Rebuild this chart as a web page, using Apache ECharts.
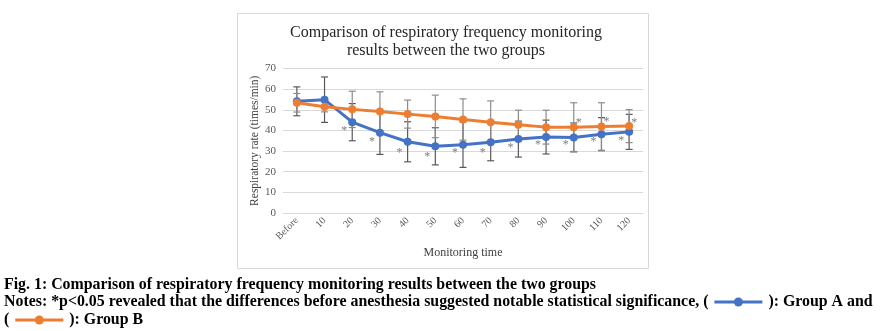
<!DOCTYPE html>
<html><head><meta charset="utf-8">
<script src="https://cdn.jsdelivr.net/npm/echarts@6/dist/echarts.min.js"></script>
<style>html,body{margin:0;padding:0;background:#fff}#c{width:888px;height:331px}</style>
</head><body><div id="c"></div>
<script>
// ---- data ----
const categories = ['Before','10','20','30','40','50','60','70','80','90','100','110','120'];
const groupA = [54.1, 54.9, 44.0, 38.9, 34.5, 32.3, 33.1, 34.3, 35.8, 36.8, 36.6, 38.2, 39.3];
const groupB = [53.4, 51.5, 50.2, 49.2, 47.9, 46.8, 45.3, 44.0, 42.8, 41.6, 41.6, 41.9, 42.1];
const sdA = [7.0, 11.0, 9.0, 10.5, 9.7, 9.0, 11.0, 9.0, 8.7, 8.2, 7.0, 8.0, 8.5];
const sdB = [4.5, 2.5, 8.8, 9.5, 6.8, 10.3, 10.0, 10.3, 7.0, 8.2, 11.8, 11.5, 8.0];
const starA = [null, null, 39.9, 34.6, 29.0, 27.4, 29.0, 29.0, 31.4, 33.2, 33.2, 34.3, 34.8];
const starB = [null, null, null, null, null, null, null, null, null, null, 43.9, 44.1, 43.9];
const yMin = 0, yMax = 70, yStep = 10;
const titleLines = ['Comparison of respiratory frequency monitoring', 'results between the two groups'];
const xAxisName = 'Monitoring time';
const yAxisName = 'Respiratory rate (times/min)';
const seriesNames = ['Group A', 'Group B'];
const caption1 = 'Fig. 1: Comparison of respiratory frequency monitoring results between the two groups';
const caption2a = 'Notes: *p<0.05 revealed that the differences before anesthesia suggested notable statistical significance, (';
const caption2b = '): Group A and';
const caption3a = '(';
const caption3b = '): Group B';

// ---- styles ----
const BLUE = '#4472C4', ORANGE = '#ED7D31';
const SERIF = '"Liberation Serif", "Times New Roman", serif';

function errSeries(vals, sds, color) {
  return {
    type: 'custom', silent: true, z: 1,
    data: vals.map((v, i) => [i, v - sds[i], v + sds[i]]),
    encode: { x: 0, y: [1, 2] },
    renderItem(params, api) {
      const x = api.value(0);
      const lo = api.coord([x, api.value(1)]);
      const hi = api.coord([x, api.value(2)]);
      const w = 3.5, st = { stroke: color, lineWidth: 1.2 };
      return { type: 'group', children: [
        { type: 'line', shape: { x1: lo[0], y1: lo[1], x2: hi[0], y2: hi[1] }, style: st },
        { type: 'line', shape: { x1: lo[0] - w, y1: lo[1], x2: lo[0] + w, y2: lo[1] }, style: st },
        { type: 'line', shape: { x1: hi[0] - w, y1: hi[1], x2: hi[0] + w, y2: hi[1] }, style: st }
      ]};
    }
  };
}
function starSeries(vals, dx) {
  return {
    type: 'custom', silent: true, z: 5,
    data: vals.map((v, i) => [i, v]).filter(d => d[1] !== null),
    encode: { x: 0, y: 1 },
    renderItem(params, api) {
      const p = api.coord([api.value(0), api.value(1)]);
      return { type: 'text', x: p[0] + dx, y: p[1],
        style: { text: '*', fill: '#7f7f7f', font: '12px ' + SERIF, align: 'center', verticalAlign: 'middle' } };
    }
  };
}

// ---- caption layout ----
const FONT = 'bold 16px ' + SERIF;
const mctx = document.createElement('canvas').getContext('2d');
mctx.font = FONT;
const mw = s => mctx.measureText(s).width;
const sx = 592 / mw(caption1);
const graphics = [
  { type: 'rect', shape: { x: 237.5, y: 13.5, width: 411, height: 255 }, style: { fill: 'none', stroke: '#d9d9d9', lineWidth: 1 }, z: -1 }
];
function capText(str, x, y) {
  graphics.push({ type: 'text', x: x, y: y, scaleX: sx, style: { text: str, font: FONT, fill: '#000', verticalAlign: 'middle' } });
  return x + mw(str) * sx;
}
function icon(x, y, color) {
  graphics.push({ type: 'line', shape: { x1: x, y1: y, x2: x + 48, y2: y }, style: { stroke: color, lineWidth: 3 } });
  graphics.push({ type: 'circle', shape: { cx: x + 24, cy: y, r: 4.5 }, style: { fill: color } });
  return x + 48;
}
capText(caption1, 4, 285);
let cx = capText(caption2a, 4, 302);
cx = icon(cx + 6, 302, BLUE);
capText(caption2b, cx + 6, 302);
cx = capText(caption3a, 4, 320);
cx = icon(cx + 6, 320, ORANGE);
capText(caption3b, cx + 6, 320);

const chart = echarts.init(document.getElementById('c'), null, { renderer: 'canvas' });
chart.setOption({
  animation: false,
  backgroundColor: '#fff',
  title: {
    text: titleLines.join('\n'), left: 446, top: 24, textAlign: 'center', padding: 0,
    textStyle: { fontFamily: SERIF, fontSize: 16, fontWeight: 'normal', color: '#262626', lineHeight: 18 }
  },
  grid: { left: 283, right: 245, top: 68.5, bottom: 118 },
  xAxis: {
    type: 'category', data: categories, boundaryGap: true,
    name: xAxisName, nameLocation: 'middle', nameGap: 34,
    nameTextStyle: { fontFamily: SERIF, fontSize: 12, color: '#404040' },
    axisLine: { lineStyle: { color: '#d9d9d9' } },
    axisTick: { show: false },
    axisLabel: { rotate: 45, fontFamily: SERIF, fontSize: 10, color: '#595959', margin: 6, interval: 0 }
  },
  yAxis: {
    type: 'value', min: yMin, max: yMax, interval: yStep,
    name: yAxisName, nameLocation: 'middle', nameGap: 22, nameRotate: 90,
    nameTextStyle: { fontFamily: SERIF, fontSize: 11.5, color: '#404040' },
    axisLine: { show: false }, axisTick: { show: false },
    axisLabel: { fontFamily: SERIF, fontSize: 11, color: '#595959', margin: 7 },
    splitLine: { lineStyle: { color: '#d9d9d9' } }
  },
  graphic: graphics,
  series: [
    errSeries(groupA, sdA, '#595959'),
    errSeries(groupB, sdB, '#8c8c8c'),
    { name: seriesNames[0], type: 'line', data: groupA, z: 3, symbol: 'circle', symbolSize: 8,
      lineStyle: { color: BLUE, width: 3 }, itemStyle: { color: BLUE } },
    { name: seriesNames[1], type: 'line', data: groupB, z: 3, symbol: 'circle', symbolSize: 8,
      lineStyle: { color: ORANGE, width: 3 }, itemStyle: { color: ORANGE } },
    starSeries(starA, -8),
    starSeries(starB, 5)
  ]
});
</script></body></html>
